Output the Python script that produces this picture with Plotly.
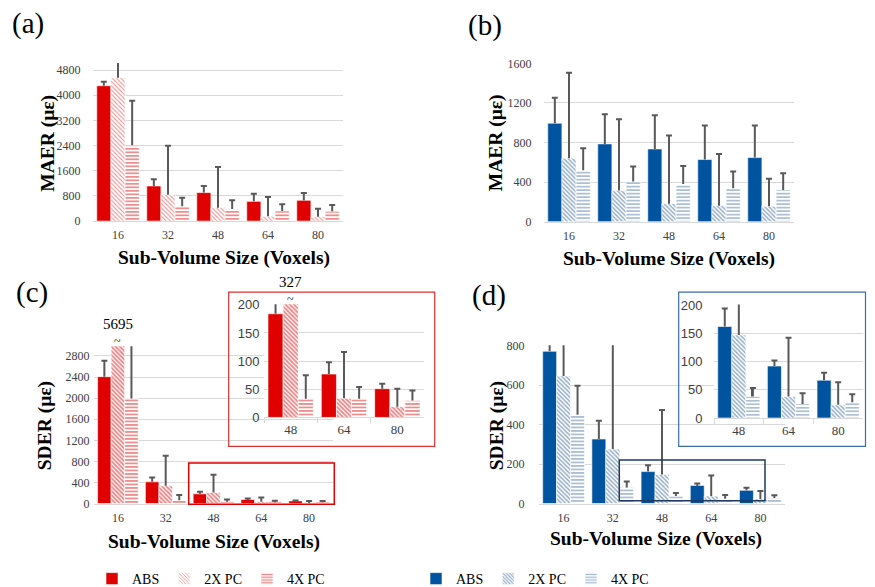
import plotly.graph_objects as go

W, H = 875, 587
RED = "#E10000"
BLUE = "#00539F"
ERRC = "#595959"
GRID = "#D9D9D9"
SERIF = "Liberation Serif, Times New Roman, serif"
SANS = "Liberation Sans, Arial, sans-serif"

# ---------------- data ----------------
sizes = ["16", "32", "48", "64", "80"]
inset_sizes = ["48", "64", "80"]
series_names = ["ABS", "2X PC", "4X PC"]

# (a) MAER, red
maer_red_abs = [4300, 1115, 905, 627, 660]
maer_red_abs_err = [130, 210, 210, 245, 232]
maer_red_2x = [4555, 840, 425, 150, 140]
maer_red_2x_err = [600, 1550, 1295, 615, 255]
maer_red_4x = [2410, 470, 383, 320, 310]
maer_red_4x_err = [1410, 275, 277, 212, 200]

# (b) MAER, blue
maer_blue_abs = [995, 786, 735, 628, 648]
maer_blue_abs_err = [257, 300, 341, 344, 324]
maer_blue_2x = [641, 314, 182, 162, 155]
maer_blue_2x_err = [864, 722, 689, 523, 280]
maer_blue_4x = [520, 405, 381, 337, 320]
maer_blue_4x_err = [222, 152, 182, 169, 170]

# (c) SDER, red
sder_red_abs = [2407, 412, 184, 77, 51]
sder_red_abs_err = [300, 82, 40, 21, 9]
sder_red_2x = [5695, 336, 210, 34, 19]
sder_red_2x_err = [0, 570, 335, 82, 32]
sder_red_4x = [1995, 64, 33, 33, 30]
sder_red_4x_err = [1200, 100, 42, 21, 18]

# (d) SDER, blue
sder_blue_abs = [771, 327, 162, 92, 67]
sder_blue_abs_err = [60, 92, 32, 10, 13]
sder_blue_2x = [646, 276, 147, 38, 23.5]
sder_blue_2x_err = [200, 600, 327, 104, 40]
sder_blue_4x = [450, 81, 38, 25, 28]
sder_blue_4x_err = [147, 31, 15, 19, 14]

break_labels_c = ["5695", "327"]

# ---------------- page-to-figure mapping ----------------
OX, SX = 7.0, 1.0
OY, SY = 15.0, 0.971
FS = 1.0


def X(t):
    return min(max((t - OX) / SX, 0.0), W)


def Y(t):
    return min(max((t - OY) / SY, 0.0), H)


def xdom(a, b):
    return [X(a) / W, X(b) / W]


def ydom(top, bottom):
    return [1 - Y(bottom) / H, 1 - Y(top) / H]


def pxx(v):
    return X(v) / W


def pxy(v):
    return 1 - Y(v) / H


def fs(v):
    return round(v * FS, 1)


def style(color, kind, pat_fg=None, solidity=0.5):
    line = dict(color="white", width=0.6)
    if kind == "solid":
        return dict(color=color, line=line)
    fg = pat_fg or color
    if kind == "diag":
        return dict(color=color, line=line,
                    pattern=dict(shape="\\", fgcolor=fg, bgcolor="white", size=3, solidity=solidity))
    return dict(color=color, line=line,
                pattern=dict(shape="-", fgcolor=fg, bgcolor="white", size=3.5, solidity=solidity))


red_styles_a = [style(RED, "solid"), style(RED, "diag", "#E02020", 0.35), style(RED, "horiz", RED, 0.45)]
red_styles_c = [style(RED, "solid"), style(RED, "diag", "#D81010", 0.6), style(RED, "horiz", RED, 0.45)]
blue_styles = [style(BLUE, "solid"), style(BLUE, "diag", "#2D5E90", 0.5),
               style(BLUE, "horiz", "#46729F", 0.45)]

fig = go.Figure()
GROUPS = ["g1", "g2", "g3"]


def add_panel(xcats, vals, errs, styles, xa, ya, px_per_cat, legend=None, sl=False, sub=None):
    for name, v, st, g in zip(series_names, vals, styles, GROUPS):
        if sub is not None:
            v = v[sub:]
        fig.add_trace(go.Bar(
            x=xcats, y=v, name=name, marker=st, xaxis=xa, yaxis=ya, offsetgroup=g,
            showlegend=sl, legend=legend or "legend", hoverinfo="x+y",
        ))
    # plus-direction error bars: a thin stem from the bar top with a cap
    for v, e, g in zip(vals, errs, GROUPS):
        if sub is not None:
            v = v[sub:]
            e = e[sub:]
        fig.add_trace(go.Bar(
            x=xcats, y=e, base=v, width=2.0 / px_per_cat, offsetgroup=g,
            marker=dict(color=ERRC, line=dict(width=0)), xaxis=xa, yaxis=ya,
            showlegend=False, hoverinfo="skip",
            error_y=dict(type="data", array=[0] * len(e), symmetric=True,
                         color=ERRC, thickness=2, width=3),
        ))


add_panel(sizes, [maer_red_abs, maer_red_2x, maer_red_4x],
          [maer_red_abs_err, maer_red_2x_err, maer_red_4x_err], red_styles_a, "x", "y", 50, "legend", True)
add_panel(sizes, [maer_blue_abs, maer_blue_2x, maer_blue_4x],
          [maer_blue_abs_err, maer_blue_2x_err, maer_blue_4x_err], blue_styles, "x2", "y2", 50, "legend2", True)
add_panel(sizes, [sder_red_abs, sder_red_2x, sder_red_4x],
          [sder_red_abs_err, sder_red_2x_err, sder_red_4x_err], red_styles_c, "x3", "y3", 47.8)
add_panel(sizes, [sder_blue_abs, sder_blue_2x, sder_blue_4x],
          [sder_blue_abs_err, sder_blue_2x_err, sder_blue_4x_err], blue_styles, "x4", "y4", 49.2)
add_panel(inset_sizes, [sder_red_abs, sder_red_2x, sder_red_4x],
          [sder_red_abs_err, sder_red_2x_err, sder_red_4x_err], red_styles_c, "x7", "y7", 53.3, sub=2)
add_panel(inset_sizes, [sder_blue_abs, sder_blue_2x, sder_blue_4x],
          [sder_blue_abs_err, sder_blue_2x_err, sder_blue_4x_err], blue_styles, "x8", "y8", 49.7, sub=2)

tickfont = dict(family=SERIF, size=fs(12), color="#404040")
CLEAR = "rgba(0,0,0,0)"


def xax(dom, anchor, ncat, tlen=3, inset=False):
    d = dict(domain=xdom(*dom), anchor=anchor, type="category", showgrid=False,
             range=[-0.5, ncat - 0.5], autorange=False,
             showline=True, linecolor=GRID, linewidth=1, tickfont=tickfont, fixedrange=True)
    if inset:
        d.update(ticks="outside", tickson="boundaries", ticklen=5, tickcolor=GRID,
                 tickfont=dict(family=SERIF, size=fs(13), color="#404040"))
    else:
        d.update(ticks="outside", ticklen=tlen, tickcolor=CLEAR)
    return d


def yax(dom, anchor, rng, dtick, tlen, font=None):
    d = dict(domain=ydom(*dom), anchor=anchor, range=rng, dtick=dtick, tick0=0,
             showgrid=True, gridcolor=GRID, gridwidth=1, zeroline=False, showline=False,
             tickfont=font or tickfont, fixedrange=True)
    if tlen > 0:
        d.update(ticks="outside", ticklen=tlen, tickcolor=CLEAR)
    else:
        d.update(ticks="")
    return d


inset_yfont = dict(family=SANS, size=fs(13), color="#404040")


def hidden(dom, anchor):
    return dict(domain=dom, anchor=anchor, visible=False, showgrid=False, zeroline=False,
                fixedrange=True)


fig.update_layout(
    xaxis=xax((92, 342), "y", 5),
    yaxis=yax((63, 220.7), "x", [0, 5020], 800, 9),
    xaxis2=xax((543, 793), "y2", 5),
    yaxis2=yax((62.3, 221.3), "x2", [0, 1610], 400, 9),
    xaxis3=xax((93, 332), "y3", 5),
    yaxis3=yax((345.6, 502.7), "x3", [0, 2985], 400, 1),
    xaxis4=xax((538, 784), "y4", 5),
    yaxis4=yax((344.6, 502.7), "x4", [0, 802], 200, 11),
    # opaque white backings for the inset frames (hide the main gridlines)
    xaxis5=hidden(xdom(228.5, 433), "y5"),
    yaxis5=hidden(ydom(292.5, 445), "x5"),
    xaxis6=hidden(xdom(678.5, 864), "y6"),
    yaxis6=hidden(ydom(292.5, 445), "x6"),
    xaxis7=xax((263, 423), "y7", 3, inset=True),
    yaxis7=yax((303.7, 416.7), "x7", [0, 201], 50, 1, inset_yfont),
    xaxis8=xax((713, 862), "y8", 3, inset=True),
    yaxis8=yax((304, 417.3), "x8", [0, 201], 50, 8, inset_yfont),
)

# ---------------- shapes ----------------
def frame(x0, y0, x1, y1, color, width):
    return dict(type="rect", xref="paper", yref="paper", layer="above",
                x0=pxx(x0), x1=pxx(x1), y0=pxy(y1), y1=pxy(y0),
                line=dict(color=color, width=width))


shapes = [
    frame(227.7, 291.7, 433.7, 445.7, "#E03030", 1.2),   # inset (c) frame
    frame(677.7, 291.7, 864.5, 445.7, "#3B6EA5", 1.2),   # inset (d) frame
    frame(187.7, 462.3, 333.3, 503.3, RED, 1.5),         # zoom region (c)
    frame(618.3, 459.3, 764, 500, "#1F3864", 1.5),       # zoom region (d)
]

# ---------------- annotations ----------------
ann = []


def text(x, y, s, size, bold=False, angle=0, family=SERIF, xref="paper"):
    ann.append(dict(x=x if xref != "paper" else pxx(x), y=pxy(y), xref=xref, yref="paper",
                    text=f"<b>{s}</b>" if bold else s, showarrow=False, textangle=angle,
                    font=dict(family=family, size=fs(size), color="black"),
                    xanchor="center", yanchor="middle"))


for lbl, (x, y) in zip(["(a)", "(b)", "(c)", "(d)"], [(26.5, 23), (484, 25), (31, 292), (488, 295)]):
    text(x, y, lbl, 29)

text(47.5, 143, "MAER (με)", 19.5, True, -90)
text(495, 143, "MAER (με)", 19.5, True, -90)
text(43.5, 425, "SDER (με)", 19.5, True, -90)
text(495.5, 425, "SDER (με)", 19.5, True, -90)
text(223, 258, "Sub-Volume Size (Voxels)", 19.5, True)
text(668, 259, "Sub-Volume Size (Voxels)", 19.5, True)
text(212.5, 541, "Sub-Volume Size (Voxels)", 19.5, True)
text(655, 538, "Sub-Volume Size (Voxels)", 19.5, True)

text(sizes.index("16"), 323, break_labels_c[0], 15, xref="x3")
text(sizes.index("16"), 340, "~", 12, xref="x3")
text(inset_sizes.index("48"), 282, break_labels_c[1], 15, xref="x7")
text(inset_sizes.index("48"), 298.5, "~", 12, xref="x7")

leg = dict(orientation="h", yanchor="middle", y=pxy(578), xanchor="center",
           font=dict(family=SERIF, size=fs(14), color="black"), bgcolor="rgba(0,0,0,0)",
           itemwidth=30, traceorder="normal")

fig.update_layout(
    width=W, height=H, margin=dict(l=0, r=0, t=0, b=0),
    paper_bgcolor="white", plot_bgcolor="white",
    barmode="group", bargap=0.15, bargroupgap=0,
    shapes=shapes, annotations=ann,
    legend=dict(leg, x=pxx(210)),
    legend2=dict(leg, x=pxx(534)),
    showlegend=True,
)

fig.write_html("out.html")
